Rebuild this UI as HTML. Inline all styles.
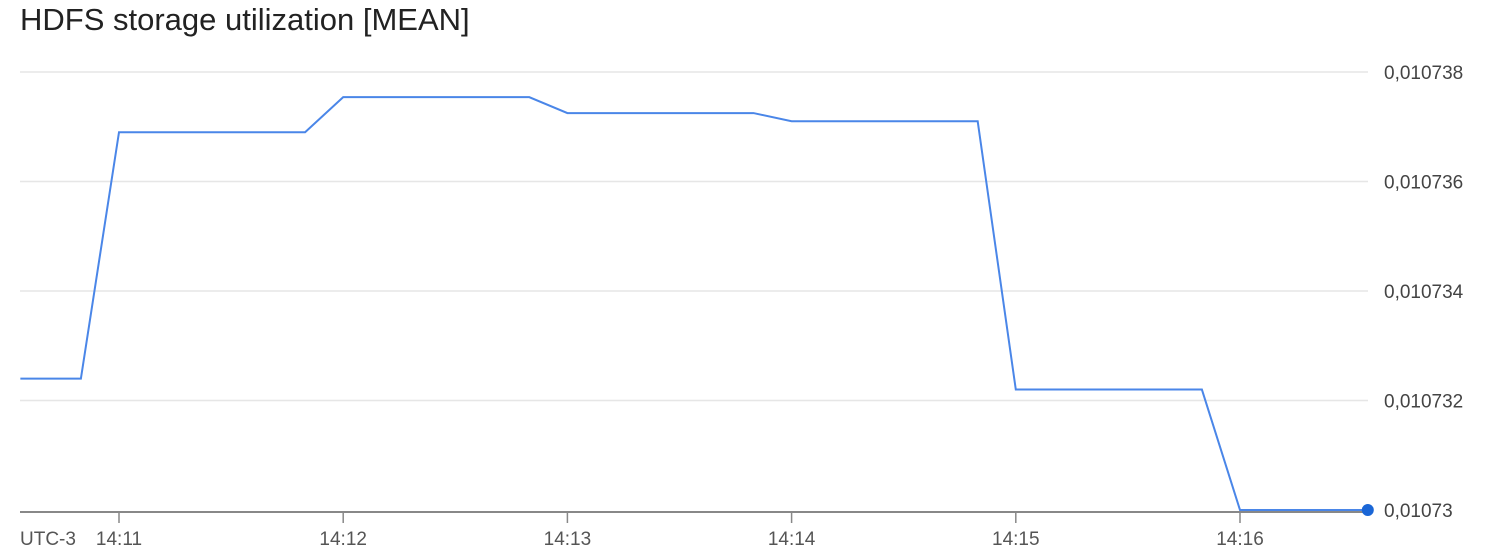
<!DOCTYPE html>
<html><head><meta charset="utf-8"><style>
body{margin:0;background:#fff;width:1488px;height:552px;overflow:hidden;font-family:"Liberation Sans",Arial,sans-serif}
</style></head><body>
<svg width="1488" height="552">
<text x="20" y="30" font-size="31" fill="#222">HDFS storage utilization [MEAN]</text>
<g id="grid"></g><g id="xax"></g><g id="series"></g>
</svg>
<script>
const times=[-0.44,-0.17,0,0.83,1,1.83,2,2.83,3,3.83,4,4.83,5,5.57];
const values=[0.0107324,0.0107324,0.0107369,0.0107369,0.01073754,0.01073754,0.01073725,0.01073725,0.0107371,0.0107371,0.0107322,0.0107322,0.01073,0.01073];
const yTicks=[0.01073,0.010732,0.010734,0.010736,0.010738];
const yTickLabels=["0,01073","0,010732","0,010734","0,010736","0,010738"];
const xTicks=[0,1,2,3,4,5];
const xTickLabels=["14:11","14:12","14:13","14:14","14:15","14:16"];
const NS="http://www.w3.org/2000/svg";
const X=t=>119+t*224.2, Y=v=>510-(v-0.01073)/0.000008*438;
function mk(p,tag,a){const e=document.createElementNS(NS,tag);for(const k in a)e.setAttribute(k,a[k]);p.appendChild(e);return e;}
const g=document.getElementById('grid'),xa=document.getElementById('xax'),s=document.getElementById('series');
yTicks.forEach((v,i)=>{
 if(i>0){const l=mk(g,'line',{x1:20,x2:1368,y1:Y(v),y2:Y(v),stroke:'#e6e6e6','stroke-width':1.5});
 
 }
 const t=mk(g,'text',{x:1384,y:Y(v)+7,'font-size':19,fill:'#444'});t.textContent=yTickLabels[i];
 
 
});
const ax=mk(xa,'line',{x1:20,x2:1368,y1:512,y2:512,stroke:'#888','stroke-width':2});


const tz=mk(xa,'text',{x:20,y:545,'font-size':19,fill:'#555'});tz.textContent='UTC-3';


xTicks.forEach((t,i)=>{
 const l=mk(xa,'line',{x1:X(t),x2:X(t),y1:512,y2:523,stroke:'#888','stroke-width':1.5});
 
 
 const tx=mk(xa,'text',{x:X(t),y:545,'font-size':19,fill:'#555','text-anchor':'middle'});tx.textContent=xTickLabels[i];
 
 
});
const pl=mk(s,'polyline',{points:times.map((t,i)=>X(t)+','+Y(values[i])).join(' '),fill:'none',stroke:'#4a86e8','stroke-width':2});


const n=times.length-1;
const d=mk(s,'circle',{cx:X(times[n]),cy:Y(values[n]),r:6,fill:'#1a66d6'});


</script>
</body></html>
